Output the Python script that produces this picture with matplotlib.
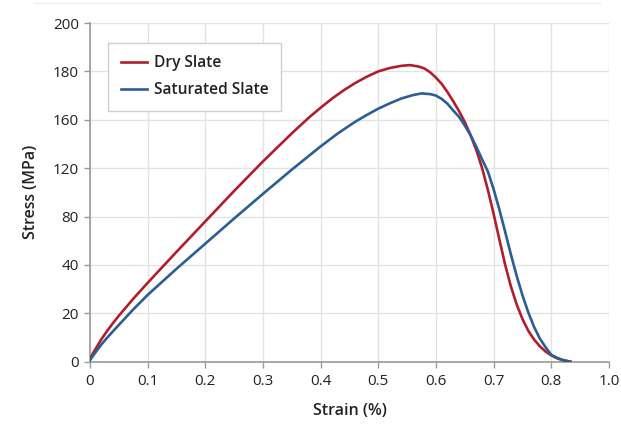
import numpy as np
import matplotlib
matplotlib.use("Agg")
import matplotlib.pyplot as plt
from matplotlib.lines import Line2D

plt.rcParams['font.family'] = ['Open Sans', 'DejaVu Sans']

# ---- data ----
dry_strain = [0, 0.005, 0.01, 0.02, 0.03, 0.04, 0.05, 0.075, 0.1, 0.15, 0.2, 0.25, 0.3,
              0.35, 0.38, 0.4, 0.42, 0.44, 0.46, 0.48, 0.5, 0.52, 0.54, 0.555, 0.57,
              0.58, 0.59, 0.6, 0.61, 0.62, 0.63, 0.64, 0.65, 0.66, 0.67, 0.68, 0.69,
              0.70, 0.71, 0.72, 0.73, 0.74, 0.75, 0.76, 0.77, 0.78, 0.79, 0.80, 0.81,
              0.82, 0.833]
dry_stress = [1, 3.4, 5.4, 9.4, 12.8, 16, 19, 26, 32.6, 50.8, 76, 101.2, 125.6,
              148.8, 161, 165, 168.8, 172.2, 175.2, 177.8, 180, 181.4, 182.3, 182.6, 182,
              181.2, 179.6, 177.4, 174.8, 171.4, 167.6, 163.6, 158, 147.2, 134.8, 120, 102,
              82, 60.8, 40, 31, 23.6, 17.6, 12.8, 9.2, 6.4, 4.2, 2.6, 1.4,
              0.6, 0]

sat_strain = [0, 0.005, 0.01, 0.02, 0.03, 0.04, 0.05, 0.075, 0.1, 0.15, 0.2, 0.25, 0.3,
              0.35, 0.4, 0.43, 0.46, 0.48, 0.5, 0.52, 0.54, 0.56, 0.575, 0.59, 0.6,
              0.61, 0.62, 0.63, 0.64, 0.65, 0.66, 0.67, 0.68, 0.69, 0.70, 0.71, 0.72,
              0.73, 0.74, 0.75, 0.76, 0.77, 0.78, 0.79, 0.80, 0.81, 0.82, 0.833]
sat_stress = [0.6, 2.4, 4, 7.2, 10, 12.6, 15.2, 21.6, 27.6, 38.4, 57.6, 78.4, 98.8,
              118.8, 138, 148.8, 158.4, 162, 164.6, 166.8, 168.8, 170.2, 170.9, 170.6, 170,
              168.6, 166.6, 163.8, 161.2, 155.2, 147.2, 137.6, 127.2, 117.2, 102.4, 85.6, 67.2,
              48.4, 35.4, 27.4, 20.4, 14.4, 9.6, 6, 2.8, 1.6, 0.7, 0]

y_tick_values = [0, 20, 40, 80, 120, 160, 180, 200]
x_tick_labels = ["0", "0.1", "0.2", "0.3", "0.4", "0.5", "0.6", "0.7", "0.8", "1.0"]
series_names = ["Dry Slate", "Saturated Slate"]
colors = ["#B01E2E", "#2B5E94"]

# ---- axis scale: tick values are equally spaced ----
y_pos = np.arange(len(y_tick_values), dtype=float)

def fwd(v):
    return np.interp(v, y_tick_values, y_pos)

def inv(p):
    return np.interp(p, y_pos, y_tick_values)

fig = plt.figure(figsize=(6.21, 4.24), dpi=100)
ax = fig.add_axes([90/621, 1 - 361.7/424, 519/621, 338.7/424])

ax.set_yscale('function', functions=(fwd, inv))
ax.set_ylim(0, 200)
x_ticks = np.arange(len(x_tick_labels)) * 0.1
ax.set_xlim(0, x_ticks[-1])

ax.plot(dry_strain, dry_stress, color=colors[0], lw=1.9, label=series_names[0],
        solid_joinstyle='round', zorder=3)
ax.plot(sat_strain, sat_stress, color=colors[1], lw=1.9, label=series_names[1],
        solid_joinstyle='round', zorder=3)

ax.set_yticks(y_tick_values)
ax.set_yticklabels([str(v) for v in y_tick_values])
ax.set_xticks(x_ticks)
ax.set_xticklabels(x_tick_labels)
ax.yaxis.set_minor_locator(matplotlib.ticker.NullLocator())

ax.grid(True, color='#e3e3e3', lw=1.0, zorder=0)
ax.set_axisbelow(True)
for s in ['top', 'right']:
    ax.spines[s].set_visible(False)
for s in ['left', 'bottom']:
    ax.spines[s].set_color('#9a9a9a')
    ax.spines[s].set_linewidth(1.2)
ax.tick_params(axis='both', colors='#9a9a9a', length=4, width=1.0,
               labelcolor='#222222', labelsize=11)
ax.tick_params(axis='x', pad=5)
ax.tick_params(axis='y', pad=4)

ax.set_xlabel("Strain (%)", fontsize=11.5, fontweight='semibold', color='#222222', labelpad=10)
ax.set_ylabel("Stress (MPa)", fontsize=11.5, fontweight='semibold', color='#222222', labelpad=10)

leg = ax.legend(loc='upper left', bbox_to_anchor=(0.035, 0.941), borderaxespad=0,
                frameon=True, fancybox=False, edgecolor='#cfcfcf', framealpha=1,
                prop={'size': 11.2, 'weight': 'semibold'}, handlelength=1.7,
                handletextpad=0.45, borderpad=0.8, labelspacing=0.7)
leg.get_frame().set_linewidth(1.0)
for t in leg.get_texts():
    t.set_color('#222222')

fig.add_artist(Line2D([35/621, 600/621], [1 - 3/424, 1 - 3/424], color='#efefef', lw=1))

fig.savefig("out.png", dpi=100)
